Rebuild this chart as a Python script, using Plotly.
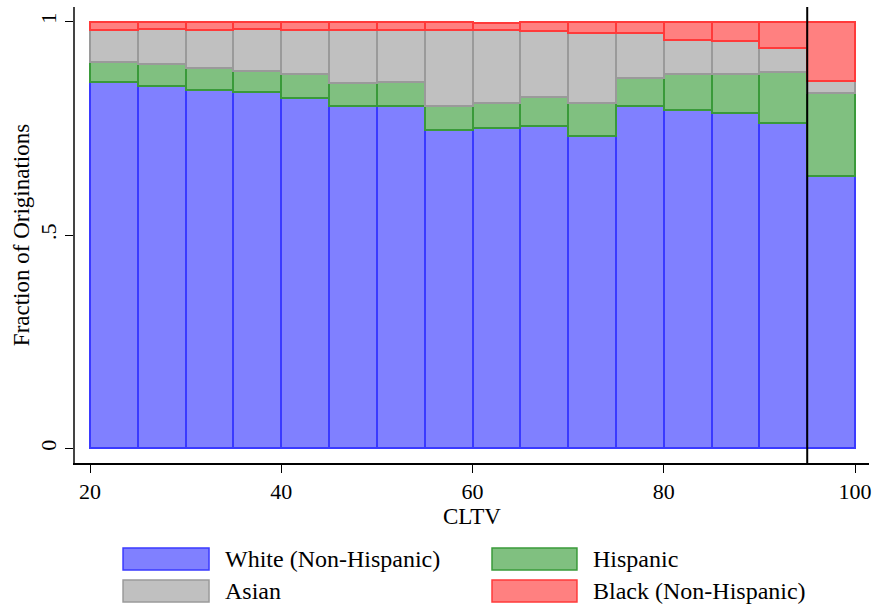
import plotly.graph_objects as go

# ---- data ----
bin_left = [20, 25, 30, 35, 40, 45, 50, 55, 60, 65, 70, 75, 80, 85, 90, 95]
bin_width = 5
series_names = ["White (Non-Hispanic)", "Hispanic", "Asian", "Black (Non-Hispanic)"]
white = [0.859, 0.850, 0.840, 0.834, 0.821, 0.801, 0.803, 0.745, 0.750, 0.756, 0.733, 0.801, 0.792, 0.785, 0.763, 0.638]
hispanic = [0.047, 0.051, 0.050, 0.051, 0.056, 0.056, 0.056, 0.057, 0.060, 0.068, 0.076, 0.066, 0.085, 0.092, 0.118, 0.195]
asian = [0.074, 0.082, 0.091, 0.098, 0.104, 0.124, 0.122, 0.179, 0.169, 0.153, 0.164, 0.106, 0.079, 0.077, 0.057, 0.027]
black = [0.020, 0.017, 0.019, 0.017, 0.019, 0.019, 0.019, 0.019, 0.018, 0.023, 0.027, 0.027, 0.044, 0.046, 0.062, 0.140]
x_ticks = [20, 40, 60, 80, 100]
y_ticks = [0, 0.5, 1]
y_ticklabels = ["0", ".5", "1"]
cutoff = 95

fills = ["#8080ff", "#80c080", "#c0c0c0", "#ff8080"]
edges = ["#3a3aff", "#3a9a3a", "#9a9a9a", "#ff3a3a"]
FONT = "Liberation Serif"

centers = [b + bin_width / 2 for b in bin_left]
fig = go.Figure()
for name, vals, fc, ec in zip(series_names, [white, hispanic, asian, black], fills, edges):
    fig.add_trace(go.Bar(x=centers, y=vals, width=bin_width, name=name,
                         marker=dict(color=fc, line=dict(color=ec, width=2)),
                         showlegend=False))

fig.add_shape(type="line", xref="x", yref="paper", x0=cutoff, x1=cutoff, y0=0, y1=1,
              line=dict(color="black", width=2))

# manual legend (2 columns x 2 rows)
col_x = [(0.0605, 0.1688, 0.1864), (0.5252, 0.6322, 0.6499)]
row_y = [(-0.1864, -0.2346), (-0.2566, -0.3048)]
for i, (name, fc, ec) in enumerate(zip(series_names, fills, edges)):
    cx0, cx1, tx = col_x[i % 2]
    ry0, ry1 = row_y[i // 2]
    fig.add_shape(type="rect", xref="paper", yref="paper", x0=cx0, x1=cx1, y0=ry1, y1=ry0,
                  fillcolor=fc, line=dict(color=ec, width=1.5))
    fig.add_annotation(xref="paper", yref="paper", x=tx, y=(ry0 + ry1) / 2, text=name,
                       showarrow=False, xanchor="left", yanchor="middle",
                       font=dict(family=FONT, size=24, color="black"))

fig.update_layout(
    width=875, height=610, barmode="stack",
    plot_bgcolor="white", paper_bgcolor="white",
    margin=dict(l=75, r=6, t=7, b=147, autoexpand=False),
    font=dict(family=FONT, size=21, color="black"),
    bargap=0,
)
fig.update_xaxes(range=[18.43, 101.46], tickvals=x_ticks, ticks="outside", ticklen=8,
                 tickcolor="black", showline=True, linecolor="black", linewidth=1.5,
                 showgrid=False, zeroline=False, automargin=False,
                 title=dict(text="CLTV", standoff=0, font=dict(family=FONT, size=23)),
                 tickfont=dict(family=FONT, size=22))
fig.update_yaxes(range=[-0.034, 1.034], tickvals=y_ticks, ticktext=y_ticklabels,
                 tickangle=-90, ticks="outside", ticklen=8, tickcolor="black",
                 showline=True, linecolor="#444", linewidth=1.5, showgrid=False, zeroline=False,
                 automargin=False,
                 title=dict(text="Fraction of Originations", standoff=0, font=dict(family=FONT, size=23)),
                 tickfont=dict(family=FONT, size=22))

fig.write_html("out.html", config={"displayModeBar": False},
               post_script="document.body.style.margin='0px';")
